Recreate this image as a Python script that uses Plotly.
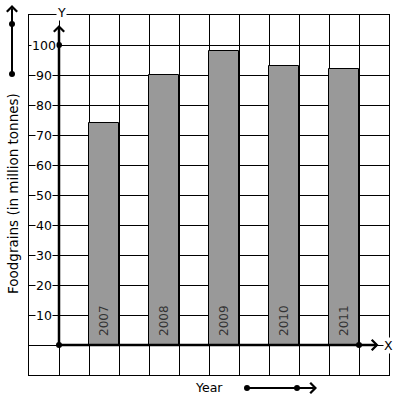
import plotly.graph_objects as go

years = ["2007", "2008", "2009", "2010", "2011"]
values = [74, 90, 98, 93, 92]
y_ticks = [10, 20, 30, 40, 50, 60, 70, 80, 90, 100]
y_title = "Foodgrains (in million tonnes)"
x_title = "Year"

FONT = "DejaVu Sans"
bar_x = [1.5 + 2 * i for i in range(len(years))]

fig = go.Figure()
fig.add_trace(go.Bar(
    x=bar_x, y=values, width=1,
    marker=dict(color="#999999", line=dict(color="black", width=1)),
    hoverinfo="skip", showlegend=False,
))
# year labels inside bars, rotated
for bx, yr in zip(bar_x, years):
    fig.add_annotation(x=bx, y=0, xref="x", yref="y", text=yr, textangle=-90, showarrow=False,
                       xanchor="center", yanchor="middle", yshift=24,
                       font=dict(family=FONT, size=12, color="#333333"))

# axis lines
fig.add_shape(type="line", x0=0, y0=0, x1=0, y1=106, xref="x", yref="y",
              line=dict(color="black", width=2.5))
fig.add_shape(type="line", x0=0, y0=0, x1=10.6, y1=0, xref="x", yref="y",
              line=dict(color="black", width=2.5))
# arrowheads
fig.add_annotation(x=0, y=106.7, ax=0, ay=100, xref="x", yref="y", axref="x", ayref="y",
                   text="", showarrow=True, arrowhead=4, arrowwidth=2, arrowsize=1, arrowcolor="black")
fig.add_annotation(x=10.65, y=0, ax=10, ay=0, xref="x", yref="y", axref="x", ayref="y",
                   text="", showarrow=True, arrowhead=4, arrowwidth=2, arrowsize=1, arrowcolor="black")
# dots
fig.add_trace(go.Scatter(x=[0, 0, 10], y=[0, 100, 0], mode="markers",
                         marker=dict(color="black", size=6), cliponaxis=False,
                         hoverinfo="skip", showlegend=False))

# y tick labels
for v in y_ticks:
    fig.add_annotation(x=-0.5, y=v, xref="x", yref="y", text=str(v), showarrow=False,
                       font=dict(family=FONT, size=12.5, color="black"), bgcolor="white",
                       borderpad=0, xanchor="center", yanchor="middle")

# axis letters
fig.add_annotation(x=0.07, y=(375 - 12) / 360, xref="x", yref="paper", text="Y", showarrow=False,
                   font=dict(family=FONT, size=12.5, color="black"), bgcolor="white", borderpad=0,
                   xanchor="center", yanchor="middle")
fig.add_annotation(x=(388 - 29) / 360, y=0, xref="paper", yref="y", text="X", showarrow=False,
                   font=dict(family=FONT, size=12.5, color="black"), bgcolor="white", borderpad=0,
                   xanchor="center", yanchor="middle")

# y title
fig.add_annotation(x=(13 - 29) / 360, y=(375 - 194) / 360, xref="paper", yref="paper",
                   text=y_title, textangle=-90, showarrow=False, xanchor="center", yanchor="middle",
                   font=dict(family=FONT, size=13.5, color="black"))
# x title
fig.add_annotation(x=(209 - 29) / 360, y=(375 - 387) / 360, xref="paper", yref="paper",
                   text=x_title, showarrow=False, xanchor="center", yanchor="middle",
                   font=dict(family=FONT, size=12.5, color="black"))

def px(xp):
    return (xp - 29) / 360

def py(yp):
    return (375 - yp) / 360

# decorative arrows outside plot
fig.add_annotation(x=px(12), y=py(5), ax=0, ay=69, xref="paper", yref="paper",
                   text="", showarrow=True, arrowhead=4, arrowwidth=2, arrowsize=1, arrowcolor="black")
fig.add_annotation(x=px(317), y=py(388), ax=-70, ay=0, xref="paper", yref="paper",
                   text="", showarrow=True, arrowhead=4, arrowwidth=2, arrowsize=1, arrowcolor="black")
for (cx, cy) in [(12, 24), (12, 74), (247, 388), (297, 388)]:
    fig.add_shape(type="circle", xref="paper", yref="paper",
                  x0=px(cx - 3), x1=px(cx + 3), y0=py(cy + 3), y1=py(cy - 3),
                  fillcolor="black", line=dict(width=0))

fig.update_xaxes(range=[-1, 11], dtick=1, tick0=0, showgrid=True, gridcolor="black", gridwidth=1,
                 showticklabels=False, zeroline=False, showline=True, linecolor="black",
                 linewidth=1, mirror=True, ticks="")
fig.update_yaxes(range=[-10, 110], dtick=10, tick0=0, showgrid=True, gridcolor="black", gridwidth=1,
                 showticklabels=False, zeroline=False, showline=True, linecolor="black",
                 linewidth=1, mirror=True, ticks="")
fig.update_layout(width=397, height=401, margin=dict(l=29, r=8, t=15, b=26),
                  plot_bgcolor="white", paper_bgcolor="white", bargap=0, showlegend=False)
fig.write_html("out.html", config={"displayModeBar": False},
               post_script="document.body.style.margin='0';document.body.style.overflow='hidden';")
